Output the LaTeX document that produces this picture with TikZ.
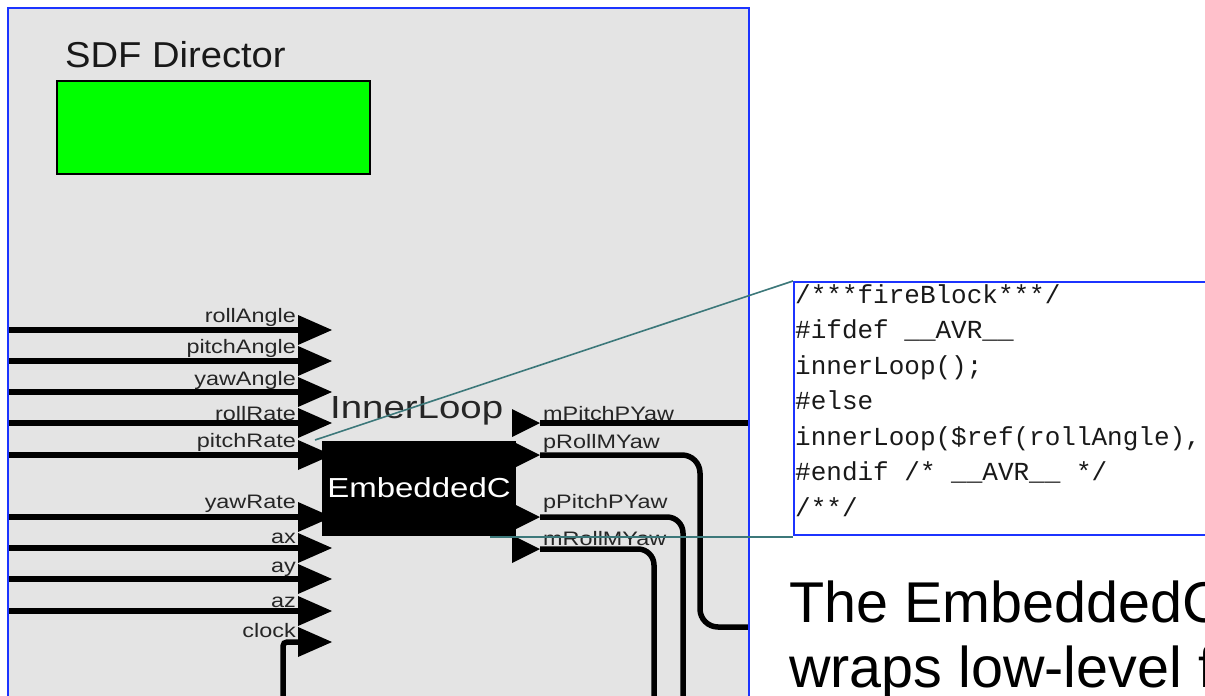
\documentclass[tikz,border=0pt]{standalone}
\usepackage{fontspec}
\setmainfont{Liberation Sans}
\newfontfamily\portfont[FakeStretch=1.2]{Liberation Sans}
\newfontfamily\titlefont[FakeStretch=1.06]{Liberation Sans}
\newfontfamily\codefont{Liberation Mono}

\definecolor{panelgray}{RGB}{228,228,228}
\definecolor{frameblue}{RGB}{28,52,255}
\definecolor{directorgreen}{RGB}{0,255,0}
\definecolor{callout}{RGB}{60,120,122}

\tikzset{
  wire/.style={line width=5.5pt, black},
  port/.style={fill=black},
  portlabel/.style={font=\portfont\fontsize{19.5}{20}\selectfont, text=black!85, inner sep=0pt},
  codeline/.style={font=\codefont\fontsize{26}{30}\selectfont, text=black!90, inner sep=0pt, anchor=base west},
  calloutline/.style={draw=callout, line width=1.6pt},
}

\begin{document}
\begin{tikzpicture}[x=1pt, y=-1pt]
\useasboundingbox (0,0) rectangle (1205,696);
\clip (0,0) rectangle (1205,696);
\fill[white] (0,0) rectangle (1205,696);
%%%%% Panel %%%%%
\fill[panelgray] (8,8) rectangle (749,720);
\node[anchor=base west, inner sep=0pt, font=\titlefont\fontsize{36}{36}\selectfont, text=black!90] (dirname) at (65,67) {SDF Director};
\node[draw=black, line width=2pt, fill=directorgreen, minimum width=313, minimum height=93, inner sep=0pt, anchor=north west] (director) at (56,80) {};

%%%%% Input ports %%%%%
\foreach \y/\name/\ly in {330/rollAngle/322, 361/pitchAngle/353, 392/yawAngle/385, 423/rollRate/420, 455/pitchRate/447, 517/yawRate/508, 548/ax/543, 579/ay/572, 611/az/607}{
  \coordinate (\name-src) at (8,\y);
  \coordinate (\name) at (298,\y);
  \draw[wire] (\name-src) -- (\name);
  \fill[port] (\name) -- ++(0,-15) -- ++(34,15) -- ++(-34,15) -- cycle;
  \node[portlabel, anchor=base east] (\name-lbl) at (296,\ly) {\name};
}
\coordinate (clock-src) at (283,710);
\coordinate (clock) at (298,642);
\draw[wire, rounded corners=4] (clock-src) |- (clock);
\fill[port] (clock) -- ++(0,-15) -- ++(34,15) -- ++(-34,15) -- cycle;
\node[portlabel, anchor=base east] (clock-lbl) at (296,637) {clock};

%%%%% Actor %%%%%
\node[fill=black, minimum width=194, minimum height=95, inner sep=0pt, text=white, font=\portfont\fontsize{27.5}{28}\selectfont] (embedded) at (419,488) {EmbeddedC};
\node[anchor=base west, inner sep=0pt, font=\portfont\fontsize{32}{32}\selectfont, text=black!85] (innerloop) at (330,418) {InnerLoop};

%%%%% Output ports %%%%%
\foreach \y/\name in {423/mPitchPYaw, 455/pRollMYaw, 517/pPitchPYaw, 549/mRollMYaw}{
  \coordinate (\name) at (540,\y);
}
\coordinate (mPitchPYaw-dst) at (749,423);
\coordinate (pRollMYaw-dst) at (749,627);
\coordinate (pPitchPYaw-dst) at (683,710);
\coordinate (mRollMYaw-dst) at (654,710);
\draw[wire] (mPitchPYaw) -- (mPitchPYaw-dst);
\draw[wire, rounded corners=18] (pRollMYaw) -| (700,540) |- (pRollMYaw-dst);
\draw[wire, rounded corners=16] (pPitchPYaw) -| (pPitchPYaw-dst);
\draw[wire, rounded corners=16] (mRollMYaw) -| (mRollMYaw-dst);
\foreach \name/\ly in {mPitchPYaw/420, pRollMYaw/448, pPitchPYaw/508, mRollMYaw/545}{
  \fill[port] (\name) -- ++(-28,-14) -- ++(0,28) -- cycle;
  \node[portlabel, anchor=base west] (\name-lbl) at (543,\ly) {\name};
}

%%%%% Frame %%%%%
\draw[frameblue, line width=2pt] (8,720) -- (8,8) -- (749,8) -- (749,720);

%%%%% Code %%%%%
\node[draw=frameblue, line width=2pt, fill=white, minimum width=440, minimum height=253, inner sep=0pt, anchor=north west] (codebox) at (793,281) {};
\node[codeline] (code1) at (795,303) {/***fireBlock***/};
\node[codeline] (code2) at (795,338.5) {\#ifdef \_\_AVR\_\_};
\node[codeline] (code3) at (795,374) {innerLoop();};
\node[codeline] (code4) at (795,409.5) {\#else};
\node[codeline] (code5) at (795,445) {innerLoop(\$ref(rollAngle),};
\node[codeline] (code6) at (795,480.5) {\#endif /* \_\_AVR\_\_ */};
\node[codeline] (code7) at (795,516) {/**/};

% callout
\coordinate (callout-top) at (315,440);
\coordinate (callout-bot) at (490,537);
\coordinate (codebox-foot) at (793,537);
\draw[calloutline] (callout-top) -- (codebox.north west);
\draw[calloutline] (callout-bot) -- (codebox-foot);

%%%%% Caption %%%%%
\node[anchor=base west, inner sep=0pt, font=\fontsize{57.5}{65}\selectfont] (caption1) at (789,622) {The EmbeddedC};
\node[anchor=base west, inner sep=0pt, font=\fontsize{57.5}{65}\selectfont] (caption2) at (789,687) {wraps low-level f};
\end{tikzpicture}
\end{document}
